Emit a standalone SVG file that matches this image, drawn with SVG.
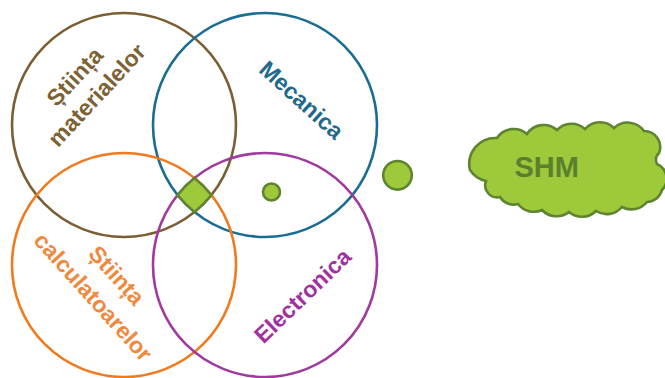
<svg xmlns="http://www.w3.org/2000/svg" width="665" height="378" viewBox="0 0 665 378">
<style>
.ring{fill:none;stroke-width:2.6}
.lbl{font-family:"Liberation Sans",Arial,sans-serif;font-weight:bold;font-size:23px;text-anchor:middle}
.blob{fill:#9DC93B;stroke:#5E8430;stroke-width:2.6}
</style>
<rect width="665" height="378" fill="#ffffff"/>
<g id="stiinta-materialelor">
<circle class="ring" cx="124" cy="125" r="112" stroke="#7B5E33"/>
<text class="lbl" fill="#7D6234" transform="translate(74.7,76.7) rotate(-47)" y="8">Știința</text>
<text class="lbl" fill="#7D6234" transform="translate(96.7,95) rotate(-47)" y="8">materialelor</text>
</g>
<g id="mecanica">
<circle class="ring" cx="265" cy="125" r="112" stroke="#1A6D92"/>
<text class="lbl" fill="#1E6A8C" transform="translate(301.7,100) rotate(42)" y="8">Mecanica</text>
</g>
<g id="stiinta-calculatoarelor">
<circle class="ring" cx="124" cy="265" r="112" stroke="#F07A1E"/>
<text class="lbl" fill="#F0883D" transform="translate(116.7,275.3) rotate(48)" y="8">Știința</text>
<text class="lbl" fill="#F0883D" transform="translate(93.3,296.7) rotate(48)" y="8">calculatoarelor</text>
</g>
<g id="electronica">
<circle class="ring" cx="265" cy="265" r="112" stroke="#A03A9E"/>
<text class="lbl" fill="#A2309F" transform="translate(302.5,295.8) rotate(-44)" y="8">Electronica</text>
</g>
<g id="intersectie">
<path class="blob" d="M194.5,178 A112,112 0 0 1 211.4,195 A112,112 0 0 1 194.5,212 A112,112 0 0 1 177.6,195 A112,112 0 0 1 194.5,178 Z"/>
</g>
<g id="punct-mic">
<circle class="blob" cx="271.5" cy="192" r="8.5"/>
</g>
<g id="punct-mare">
<circle class="blob" cx="397.5" cy="175.3" r="14.3"/>
</g>
<g id="shm">
<path class="blob" d="M486,181 Q476,179 470,170 A26,26 0 0 1 497,138 A20,20 0 0 1 527,134 A20,20 0 0 1 557,130 A20,20 0 0 1 585,129 A20,20 0 0 1 614,128 A20,20 0 0 1 644,131 A16,16 0 0 1 659,153 Q654,158 657,164 A16,16 0 0 1 662,190 A16,16 0 0 1 647,202 A20,20 0 0 1 622,207 A20,20 0 0 1 596,211 A20,20 0 0 1 569,212 A20,20 0 0 1 542,210 A20,20 0 0 1 518,204 A16,16 0 0 1 500,197 A12,12 0 0 1 486,181 Z"/>
<text x="546.7" y="177" font-family="Liberation Sans, Arial, sans-serif" font-weight="bold" font-size="29" fill="#5B7F2F" text-anchor="middle">SHM</text>
</g>
<g id="connectors"></g>
</svg>
